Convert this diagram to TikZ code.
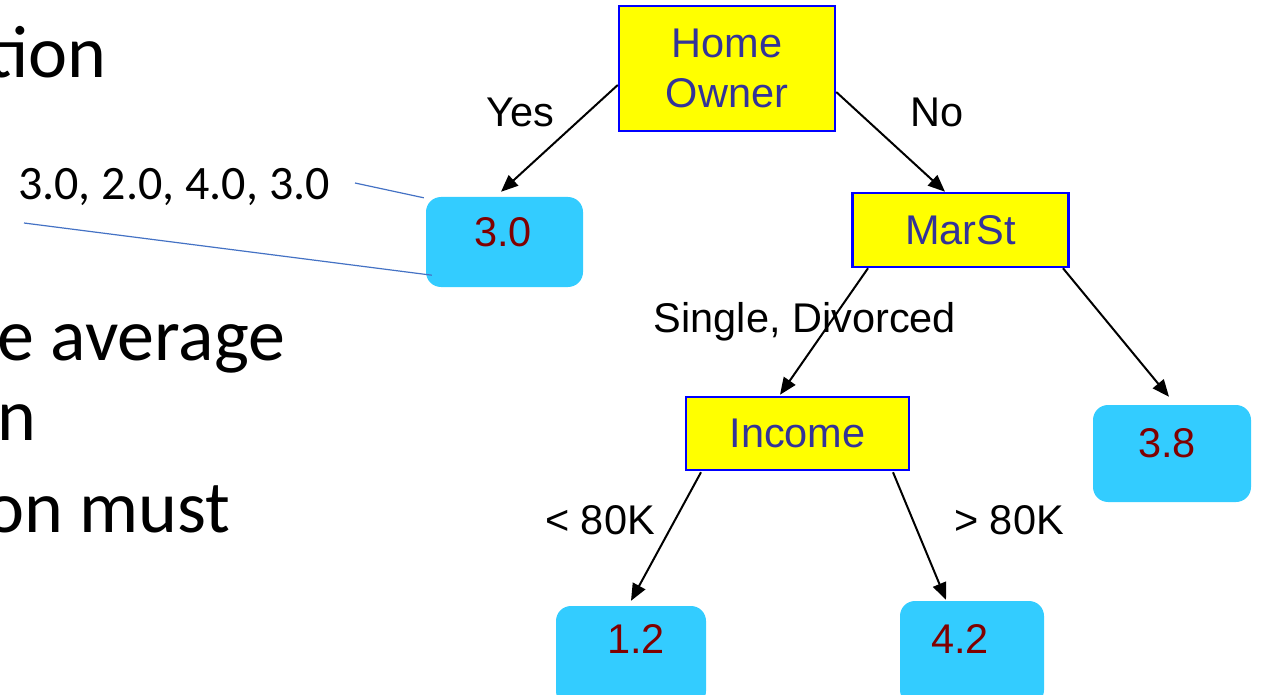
\documentclass[tikz,border=0pt]{standalone}
\usepackage{fontspec}
\setmainfont{Liberation Sans}
\newfontfamily\calibri{Carlito}
\usetikzlibrary{arrows.meta}
\definecolor{boxyellow}{HTML}{FFFF00}
\definecolor{boxblue}{HTML}{0000FF}
\definecolor{nodetext}{HTML}{333399}
\definecolor{leafblue}{HTML}{33CCFF}
\definecolor{leaftext}{HTML}{800000}
\definecolor{callout}{HTML}{4472C4}
\begin{document}
\begin{tikzpicture}[x=1pt,y=-1pt,
  attr/.style={draw=boxblue, line width=2.5pt, fill=boxyellow, text=nodetext,
    font=\fontsize{41.5}{50}\selectfont, inner sep=0pt, align=center},
  leaf/.style={fill=leafblue, rounded corners=15pt, inner sep=0pt},
  leaftxt/.style={text=leaftext, font=\fontsize{41.5}{50}\selectfont, anchor=base, inner sep=0pt},
  edgelbl/.style={font=\fontsize{41.5}{50}\selectfont, anchor=base, inner sep=0pt},
  branch/.style={line width=2pt, -{Triangle[length=17pt,width=14pt]}},
  slide/.style={font=\calibri\fontsize{74}{80}\selectfont, anchor=base west, inner sep=0pt},
  callline/.style={draw=callout, line width=1.2pt}]
\useasboundingbox (0,0) rectangle (1261,695);

% left slide text (cut off by the page edge, as in the original)
\node[slide] (w1) at (-13,78) {tion};
\node[slide] (w2) at (-3,360) {e average};
\node[slide] (w3) at (-3,440) {n};
\node[slide] (w4) at (-15,532) {on must};
\node[font=\calibri\fontsize{48}{55}\selectfont, anchor=base west, inner sep=0pt] (vals) at (18,200) {3.0, 2.0, 4.0, 3.0};

% attribute nodes
\node[attr, minimum width=216pt, minimum height=125pt] (ho) at (727,68.5) {Home\\Owner};
\node[attr, minimum width=216pt, minimum height=74pt] (ms) at (960.5,230) {MarSt};
\node[attr, minimum width=223pt, minimum height=73pt] (inc) at (797.5,433.5) {Income};

% leaves
\node[leaf, minimum width=157pt, minimum height=90pt] (l30) at (504.5,242) {};
\node[leaftxt] (t30) at (503,247) {3.0};
\node[leaf, minimum width=158pt, minimum height=97pt] (l38) at (1172,453.5) {};
\node[leaftxt] (t38) at (1167,457) {3.8};
\node[leaf, minimum width=150pt, minimum height=100pt] (l12) at (631,656) {};
\node[leaftxt] (t12) at (636,653) {1.2};
\node[leaf, minimum width=144pt, minimum height=104pt] (l42) at (972,653) {};
\node[leaftxt] (t42) at (960,653) {4.2};

% branches
\draw[branch] ([yshift=-16.5pt]ho.west) -- ([xshift=-3.5pt,yshift=5pt]l30.north);
\draw[branch] ([yshift=-23.5pt]ho.east) -- ([xshift=-15.5pt]ms.north);
\draw[branch] ([xshift=-92.5pt]ms.south) -- ([xshift=-17.5pt,yshift=1pt]inc.north);
\draw[branch] ([xshift=102.5pt]ms.south) -- ([xshift=-3pt,yshift=8pt]l38.north);
\draw[branch] ([xshift=-96.5pt,yshift=-1pt]inc.south) -- ([yshift=5pt]l12.north);
\draw[branch] ([xshift=95.5pt,yshift=-1pt]inc.south) -- ([xshift=-26pt,yshift=1pt]l42.north);

% branch labels
\node[edgelbl] (yes) at (520,127) {Yes};
\node[edgelbl] (no) at (937,127) {No};
\node[edgelbl] (sd) at (805,332) {Single, Divorced};
\node[edgelbl] (lt) at (600,534) {< 80K};
\node[edgelbl] (gt) at (1009,534) {> 80K};

% callout lines
\coordinate (c1s) at (355,183);
\coordinate (c2s) at (24,223);
\draw[callline] (c1s) -- ([xshift=-2pt,yshift=-1pt]l30.north west);
\draw[callline] (c2s) -- ([xshift=6pt,yshift=12pt]l30.south west);
\end{tikzpicture}
\end{document}
